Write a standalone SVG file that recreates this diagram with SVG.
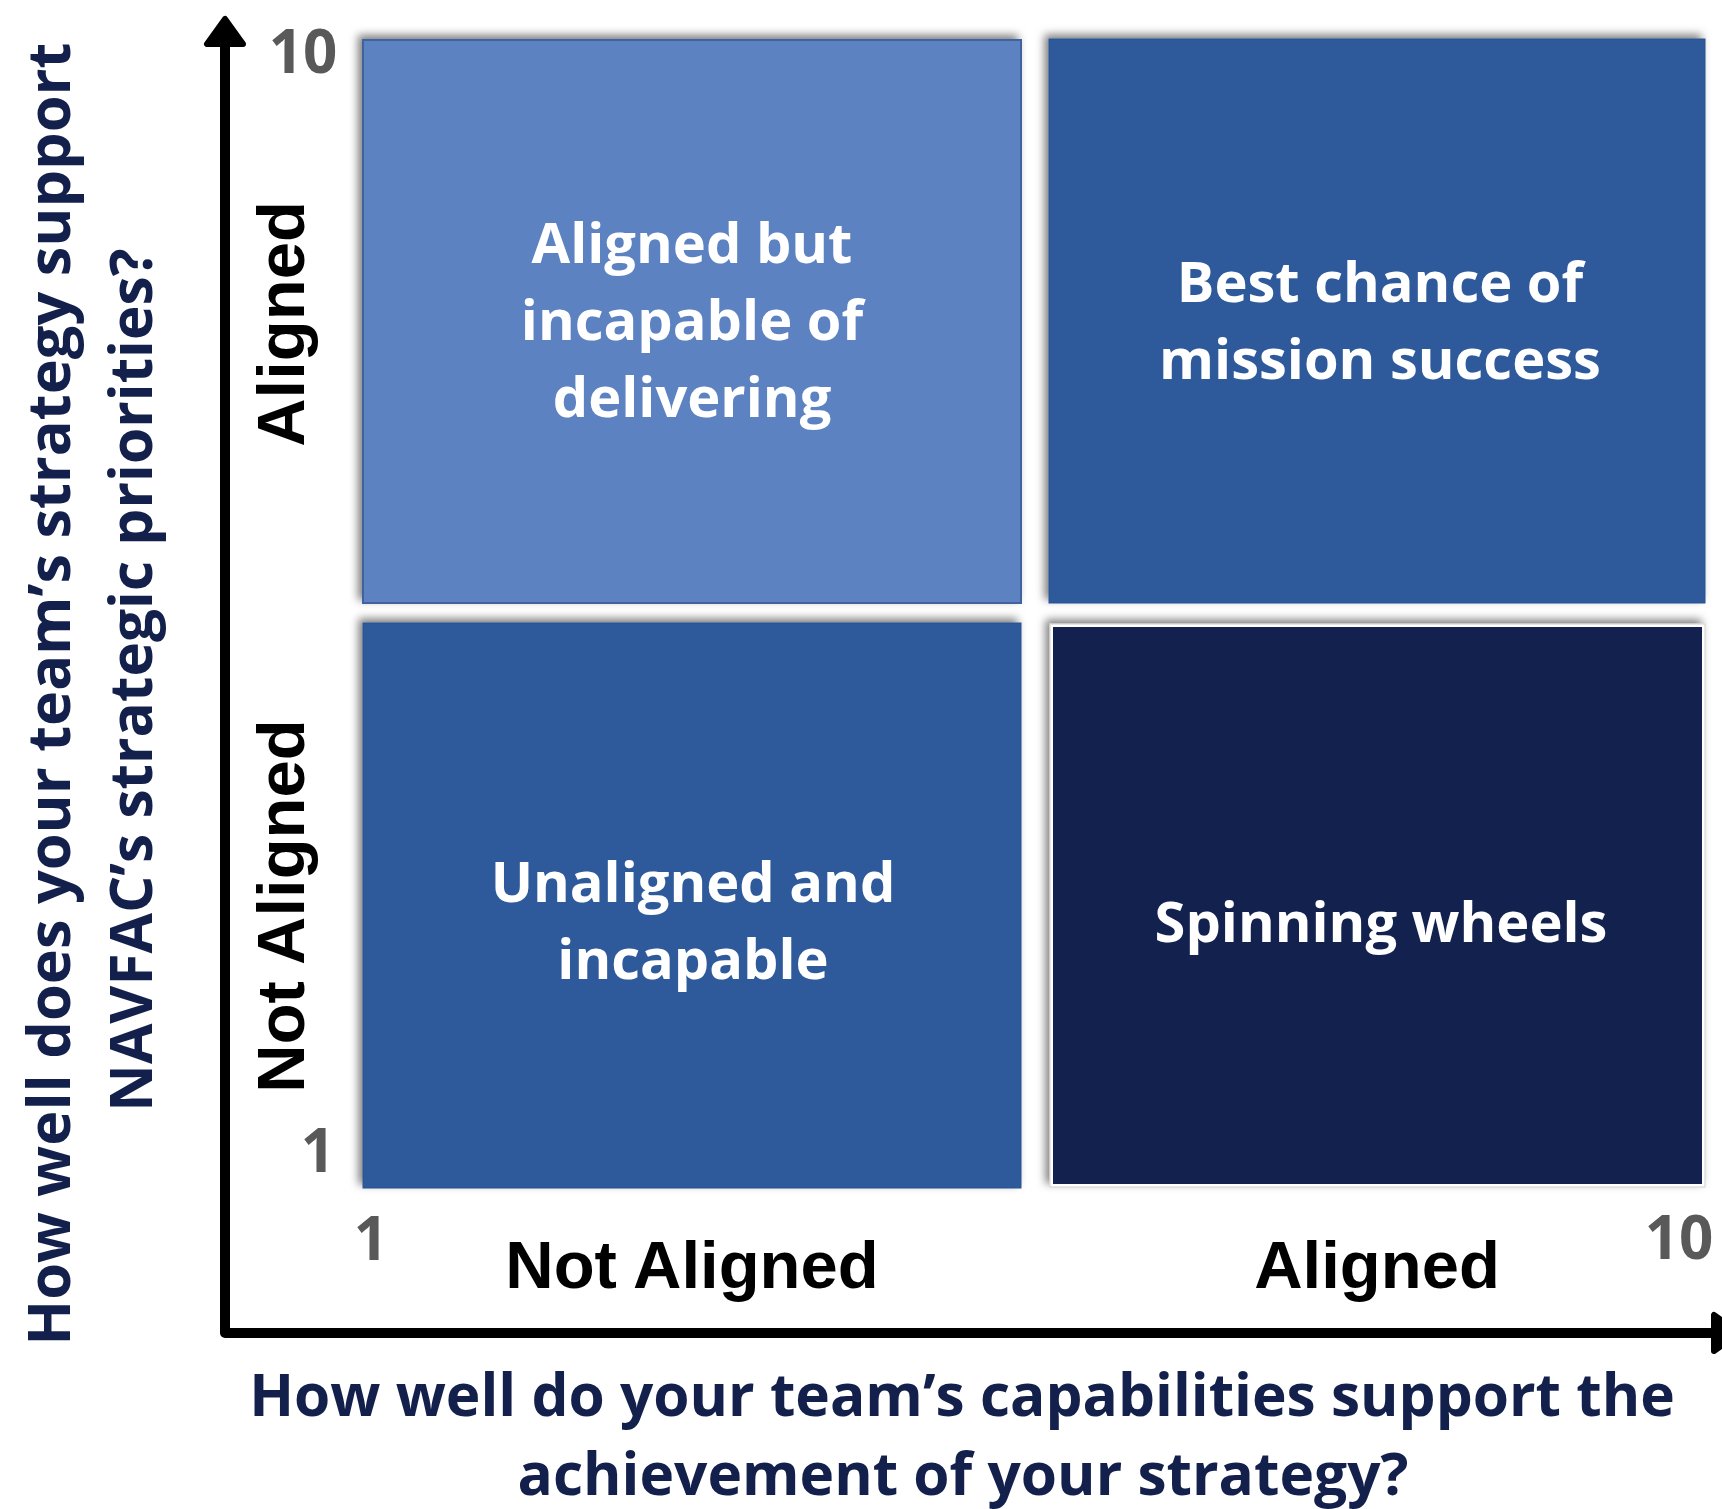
<svg xmlns="http://www.w3.org/2000/svg" width="1722" height="1509" viewBox="0 0 1722 1509">
<style>
.q{font-family:"Open Sans","Noto Sans",sans-serif;font-weight:700;font-size:56px;fill:#ffffff;text-anchor:middle}
.num{font-family:"Open Sans","Noto Sans",sans-serif;font-weight:700;font-size:60px;fill:#595959;text-anchor:middle}
.lab{font-family:"Liberation Sans",Arial,sans-serif;font-weight:700;font-size:67px;fill:#000000;text-anchor:middle}
.title{font-family:"Open Sans","Noto Sans",sans-serif;font-weight:700;font-size:58.6px;fill:#13204b;text-anchor:middle}
.axis{fill:none;stroke:#000;stroke-width:10;stroke-linejoin:round;stroke-linecap:round}
.head{fill:#000;stroke:#000;stroke-width:6;stroke-linejoin:round}
</style>
<defs>
<filter id="sh" x="-5%" y="-5%" width="110%" height="110%">
<feDropShadow dx="-4" dy="-4" stdDeviation="4.5" flood-color="#000" flood-opacity="0.5"/>
</filter>
</defs>
<rect width="1722" height="1509" fill="#ffffff"/>
<g id="connectors">
<path class="axis" d="M225,44 L225,1333 L1712,1333"/>
<polygon class="head" points="225,19 207,44 243,44"/>
<polygon class="head" points="1714,1315 1714,1351 1740,1333"/>
</g>
<g id="q-top-left">
<rect x="363" y="40" width="658" height="563" fill="#5b82c2" stroke="#3f649e" stroke-width="2" filter="url(#sh)"/>
<text class="q" x="692" y="263">Aligned but</text>
<text class="q" x="692" y="340">incapable of</text>
<text class="q" x="692" y="417">delivering</text>
</g>
<g id="q-top-right">
<rect x="1049" y="39" width="656" height="564" fill="#2d5a9c" stroke="#2b5290" stroke-width="1" filter="url(#sh)"/>
<text class="q" x="1380" y="302">Best chance of</text>
<text class="q" x="1380" y="379">mission success</text>
</g>
<g id="q-bottom-left">
<rect x="363" y="623" width="658" height="565" fill="#2d5a9c" stroke="#2b5290" stroke-width="1" filter="url(#sh)"/>
<text class="q" x="693" y="902">Unaligned and</text>
<text class="q" x="693" y="979">incapable</text>
</g>
<g id="q-bottom-right">
<rect x="1050" y="624" width="655" height="563" fill="#ffffff" stroke="#cfcfcf" stroke-width="1" filter="url(#sh)"/>
<rect x="1053" y="627" width="649" height="557" fill="#13214e"/>
<text class="q" x="1381" y="942">Spinning wheels</text>
</g>
<g id="scale-labels">
<text class="num" x="303" y="73">10</text>
<text class="num" x="318" y="1172">1</text>
<text class="num" x="371" y="1260">1</text>
<text class="num" x="1679" y="1259">10</text>
</g>
<g id="axis-labels">
<text class="lab" transform="translate(304,324) rotate(-90)">Aligned</text>
<text class="lab" transform="translate(304,906) rotate(-90)">Not Aligned</text>
<text class="lab" x="692" y="1288">Not Aligned</text>
<text class="lab" x="1377" y="1288">Aligned</text>
</g>
<g id="y-title">
<text class="title" style="font-size:59.5px" transform="translate(70,694) rotate(-90)">How well does your team’s strategy support</text>
<text class="title" transform="translate(152,680) rotate(-90)">NAVFAC’s strategic priorities?</text>
</g>
<g id="x-title">
<text class="title" x="962" y="1416">How well do your team’s capabilities support the</text>
<text class="title" x="963" y="1495">achievement of your strategy?</text>
</g>
</svg>
